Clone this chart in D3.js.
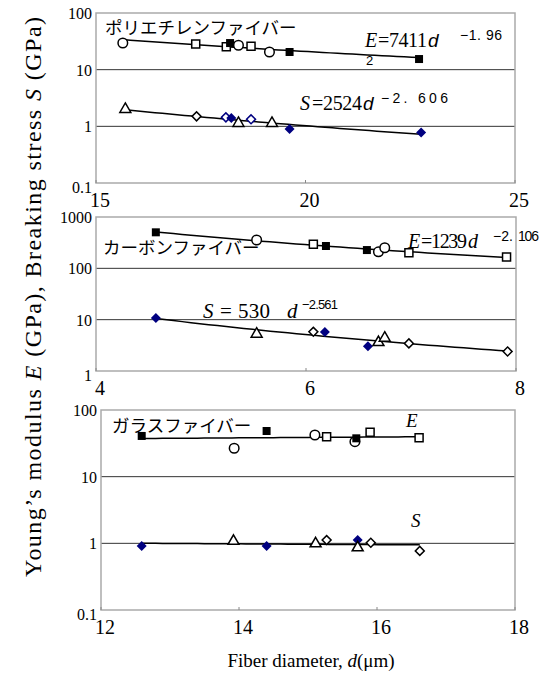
<!DOCTYPE html>
<html>
<head>
<meta charset="utf-8">
<title>Fiber diameter</title>
<script src="https://d3js.org/d3.v7.min.js"></script>
<style>
  body { margin: 0; background: #fff; }
  text { font-family: "Liberation Serif", "Times New Roman", serif; fill: #000; }
  .jp { font-family: "Noto Sans CJK JP", sans-serif; }
  .sans { font-family: "Liberation Sans", Arial, sans-serif; }
</style>
</head>
<body>
<script>
// ポリエチレンファイバー
var peE_d = [15.64, 17.38, 18.11, 18.2, 18.4, 18.7, 19.14, 19.62, 22.71];
var peE_v = [29.6, 28.4, 25.5, 29.5, 27, 26, 20.5, 20.5, 15.4];
var peE_m = ["circle", "square", "square", "fsquare", "circle", "square", "circle", "fsquare", "fsquare"];
var peS_d = [15.7, 17.4, 18.1, 18.23, 18.4, 18.7, 19.2, 19.62, 22.76];
var peS_v = [2.0, 1.5, 1.44, 1.4, 1.13, 1.33, 1.13, 0.9, 0.78];
var peS_m = ["triangle", "diamond", "bdiamond", "fdiamond", "triangle", "bdiamond", "triangle", "fdiamond", "fdiamond"];

// カーボンファイバー
var cfE_d = [4.57, 5.53, 6.07, 6.19, 6.58, 6.69, 6.75, 6.98, 7.91];
var cfE_v = [503, 356, 294, 272, 227, 210, 252, 201, 166];
var cfE_m = ["fsquare", "circle", "square", "fsquare", "fsquare", "circle", "circle", "square", "square"];
var cfS_d = [4.57, 5.53, 6.07, 6.18, 6.59, 6.69, 6.75, 6.98, 7.92];
var cfS_v = [10.8, 5.26, 5.8, 5.75, 3.02, 3.6, 4.4, 3.45, 2.4];
var cfS_m = ["fdiamond", "triangle", "diamond", "fdiamond", "fdiamond", "triangle", "triangle", "diamond", "diamond"];

// ガラスファイバー
var gfE_d = [12.59, 13.93, 14.4, 15.1, 15.27, 15.68, 15.7, 15.9, 16.61];
var gfE_v = [40.8, 26.7, 48.4, 42.2, 39.8, 33.5, 37.6, 46.3, 38.4];
var gfE_m = ["fsquare", "circle", "fsquare", "circle", "square", "circle", "fsquare", "square", "square"];
var gfS_d = [12.59, 13.92, 14.4, 15.11, 15.27, 15.72, 15.72, 15.91, 16.62];
var gfS_v = [0.91, 1.08, 0.91, 0.99, 1.12, 1.12, 0.86, 1.02, 0.77];
var gfS_m = ["fdiamond", "triangle", "fdiamond", "triangle", "diamond", "fdiamond", "triangle", "diamond", "diamond"];

// 軸
var xTicks1 = [15, 20, 25], yTicks1 = [0.1, 1, 10, 100];
var xTicks2 = [4, 6, 8], yTicks2 = [1, 10, 100, 1000];
var xTicks3 = [12, 14, 16, 18], yTicks3 = [0.1, 1, 10, 100];

var W = 548, H = 679;
var svg = d3.select("body").append("svg").attr("width", W).attr("height", H);

// 累乗近似（最小二乗, log-log）
function powerFit(xs, ys) {
    var lx = xs.map(Math.log), ly = ys.map(Math.log);
    var mx = d3.mean(lx), my = d3.mean(ly);
    var sxy = d3.sum(lx, function(v, i) { return (v - mx) * (ly[i] - my); });
    var sxx = d3.sum(lx, function(v) { return (v - mx) * (v - mx); });
    var b = sxy / sxx, a = Math.exp(my - b * mx);
    return function(x) { return a * Math.pow(x, b); };
}

var markerStyle = {
    circle:   { sym: d3.symbolCircle,   size: 72, fill: "#fff", stroke: "#000", rot: 0 },
    square:   { sym: d3.symbolSquare,   size: 64, fill: "#fff", stroke: "#000", rot: 0 },
    fsquare:  { sym: d3.symbolSquare,   size: 64, fill: "#000", stroke: "none", rot: 0 },
    triangle: { sym: d3.symbolTriangle, size: 52, fill: "#fff", stroke: "#000", rot: 0 },
    diamond:  { sym: d3.symbolSquare,   size: 40, fill: "#fff", stroke: "#000", rot: 45 },
    bdiamond: { sym: d3.symbolSquare,   size: 40, fill: "#fff", stroke: "#000080", rot: 45 },
    fdiamond: { sym: d3.symbolSquare,   size: 50, fill: "#000080", stroke: "none", rot: 45 }
};

function panel(p) {
    var x = d3.scaleLinear().domain(p.xd).range([p.left, p.right]);
    var y = d3.scaleLog().domain(p.yd).range([p.bottom, p.top]);
    var g = svg.append("g");

    // グリッド
    g.selectAll(".grid").data(p.yt.slice(1, -1)).enter().append("line")
        .attr("x1", p.left).attr("x2", p.right)
        .attr("y1", function(d) { return y(d); }).attr("y2", function(d) { return y(d); })
        .attr("stroke", "#333").attr("stroke-width", 1);

    // 枠
    g.append("rect").attr("x", p.left).attr("y", p.top)
        .attr("width", p.right - p.left).attr("height", p.bottom - p.top)
        .attr("fill", "none").attr("stroke", "#aaa").attr("stroke-width", 1.5);

    // x目盛
    g.selectAll(".xt").data(p.xt).enter().append("line")
        .attr("x1", function(d) { return x(d); }).attr("x2", function(d) { return x(d); })
        .attr("y1", p.bottom).attr("y2", p.bottom - 3)
        .attr("stroke", "#888");
    g.selectAll(".xl").data(p.xt).enter().append("text")
        .attr("x", function(d) { return x(d) + 4; }).attr("y", p.bottom + 24)
        .attr("text-anchor", "middle").style("font-size", "20px")
        .text(function(d) { return d; });

    // y目盛
    g.selectAll(".yl").data(p.yt).enter().append("text")
        .attr("x", p.left - 4).attr("y", function(d) { return y(d) + (d === p.yd[0] ? 10 : 6); })
        .attr("text-anchor", "end").style("font-size", "16px")
        .text(function(d) { return d; });

    // 近似線とマーカー
    p.series.forEach(function(s) {
        var f = powerFit(s.d, s.v);
        var lo = d3.min(s.d), hi = d3.max(s.d);
        var pts = d3.range(0, 41).map(function(i) { var xv = lo + (hi - lo) * i / 40; return [xv, f(xv)]; });
        g.append("path").datum(pts)
            .attr("d", d3.line().x(function(d) { return x(d[0]); }).y(function(d) { return y(d[1]); }))
            .attr("fill", "none").attr("stroke", "#000").attr("stroke-width", 1.5);
    });
    p.series.forEach(function(s) {
        g.selectAll(null).data(s.d).enter().append("path")
            .attr("d", function(d, i) { var m = markerStyle[s.m[i]]; return d3.symbol().type(m.sym).size(m.size)(); })
            .attr("transform", function(d, i) {
                return "translate(" + x(d) + "," + y(s.v[i]) + ") rotate(" + markerStyle[s.m[i]].rot + ")";
            })
            .attr("fill", function(d, i) { return markerStyle[s.m[i]].fill; })
            .attr("stroke", function(d, i) { return markerStyle[s.m[i]].stroke; })
            .attr("stroke-width", 1.5);
    });
    return g;
}

var g1 = panel({ xd: [15, 25], yd: [0.1, 100], left: 96, right: 515, top: 13, bottom: 183,
    xt: xTicks1, yt: yTicks1,
    series: [{ d: peE_d, v: peE_v, m: peE_m }, { d: peS_d, v: peS_v, m: peS_m }] });
var g2 = panel({ xd: [4, 8], yd: [1, 1000], left: 96, right: 516, top: 217, bottom: 371,
    xt: xTicks2, yt: yTicks2,
    series: [{ d: cfE_d, v: cfE_v, m: cfE_m }, { d: cfS_d, v: cfS_v, m: cfS_m }] });
var g3 = panel({ xd: [12, 18], yd: [0.1, 100], left: 101, right: 515, top: 410, bottom: 610,
    xt: xTicks3, yt: yTicks3,
    series: [{ d: gfE_d, v: gfE_v, m: gfE_m }, { d: gfS_d, v: gfS_v, m: gfS_m }] });

// ラベル
function jp(txt, x, y) {
    svg.append("text").attr("class", "jp").attr("x", x).attr("y", y)
        .style("font-size", "17.5px").text(txt);
}
jp("ポリエチレンファイバー", 105, 34);
jp("カーボンファイバー", 103, 254);
jp("ガラスファイバー", 112, 432);

// 式の部品: 文字, x, y, サイズ, 幅, クラス, 斜体
function piece(txt, x, y, fs, len, cls, it) {
    var t = svg.append("text").attr("x", x).attr("y", y).style("font-size", fs + "px").text(txt);
    if (len) t.attr("textLength", len).attr("lengthAdjust", "spacing");
    if (cls) t.attr("class", cls);
    if (it) t.style("font-style", "italic");
}
piece("E", 365, 47, 20, 0, null, true);
piece("=7411", 378, 47, 20, 49, null, false);
piece("d", 428, 47, 19, 0, "sans", true);
piece("\u22121. 96", 460, 40, 14, 42, "sans", false);
piece("2", 366, 65, 13, 0, "sans", false);

piece("S", 300, 110, 20, 0, null, true);
piece("=2524", 312, 110, 20, 50, null, false);
piece("d", 363, 110, 19, 0, "sans", true);
piece("\u22122. 606", 381, 103, 14, 67, "sans", false);

piece("E", 408, 248, 20, 0, null, true);
piece("=1239", 421, 248, 20, 46, null, false);
piece("d", 468, 248, 20, 0, null, true);
piece("\u22122.", 493, 241, 14, 20, "sans", false);
piece("106", 518, 241, 14, 21, "sans", false);

piece("S", 203, 318, 21, 0, null, true);
piece("=", 220, 318, 21, 0, null, false);
piece("530", 238, 318, 21, 32, null, false);
piece("d", 287, 318, 21, 0, null, true);
piece("\u22122.561", 302, 309, 13, 36, "sans", false);

piece("E", 406, 427, 19, 0, null, true);
piece("S", 411, 527, 19, 0, null, true);

// 軸タイトル
var xt = svg.append("text").attr("x", 311).attr("y", 667).attr("text-anchor", "middle").style("font-size", "19px");
xt.append("tspan").text("Fiber diameter, ");
xt.append("tspan").style("font-style", "italic").text("d");
xt.append("tspan").text("(\u03bcm)");

var yt = svg.append("text").attr("transform", "translate(41,297) rotate(-90)")
    .attr("text-anchor", "middle").style("font-size", "24px")
    .attr("textLength", 560).attr("lengthAdjust", "spacing");
yt.append("tspan").text("Young\u2019s modulus  ");
yt.append("tspan").style("font-style", "italic").text("E");
yt.append("tspan").text("  (GPa), Breaking stress  ");
yt.append("tspan").style("font-style", "italic").text("S");
yt.append("tspan").text(" (GPa)");
</script>
</body>
</html>
